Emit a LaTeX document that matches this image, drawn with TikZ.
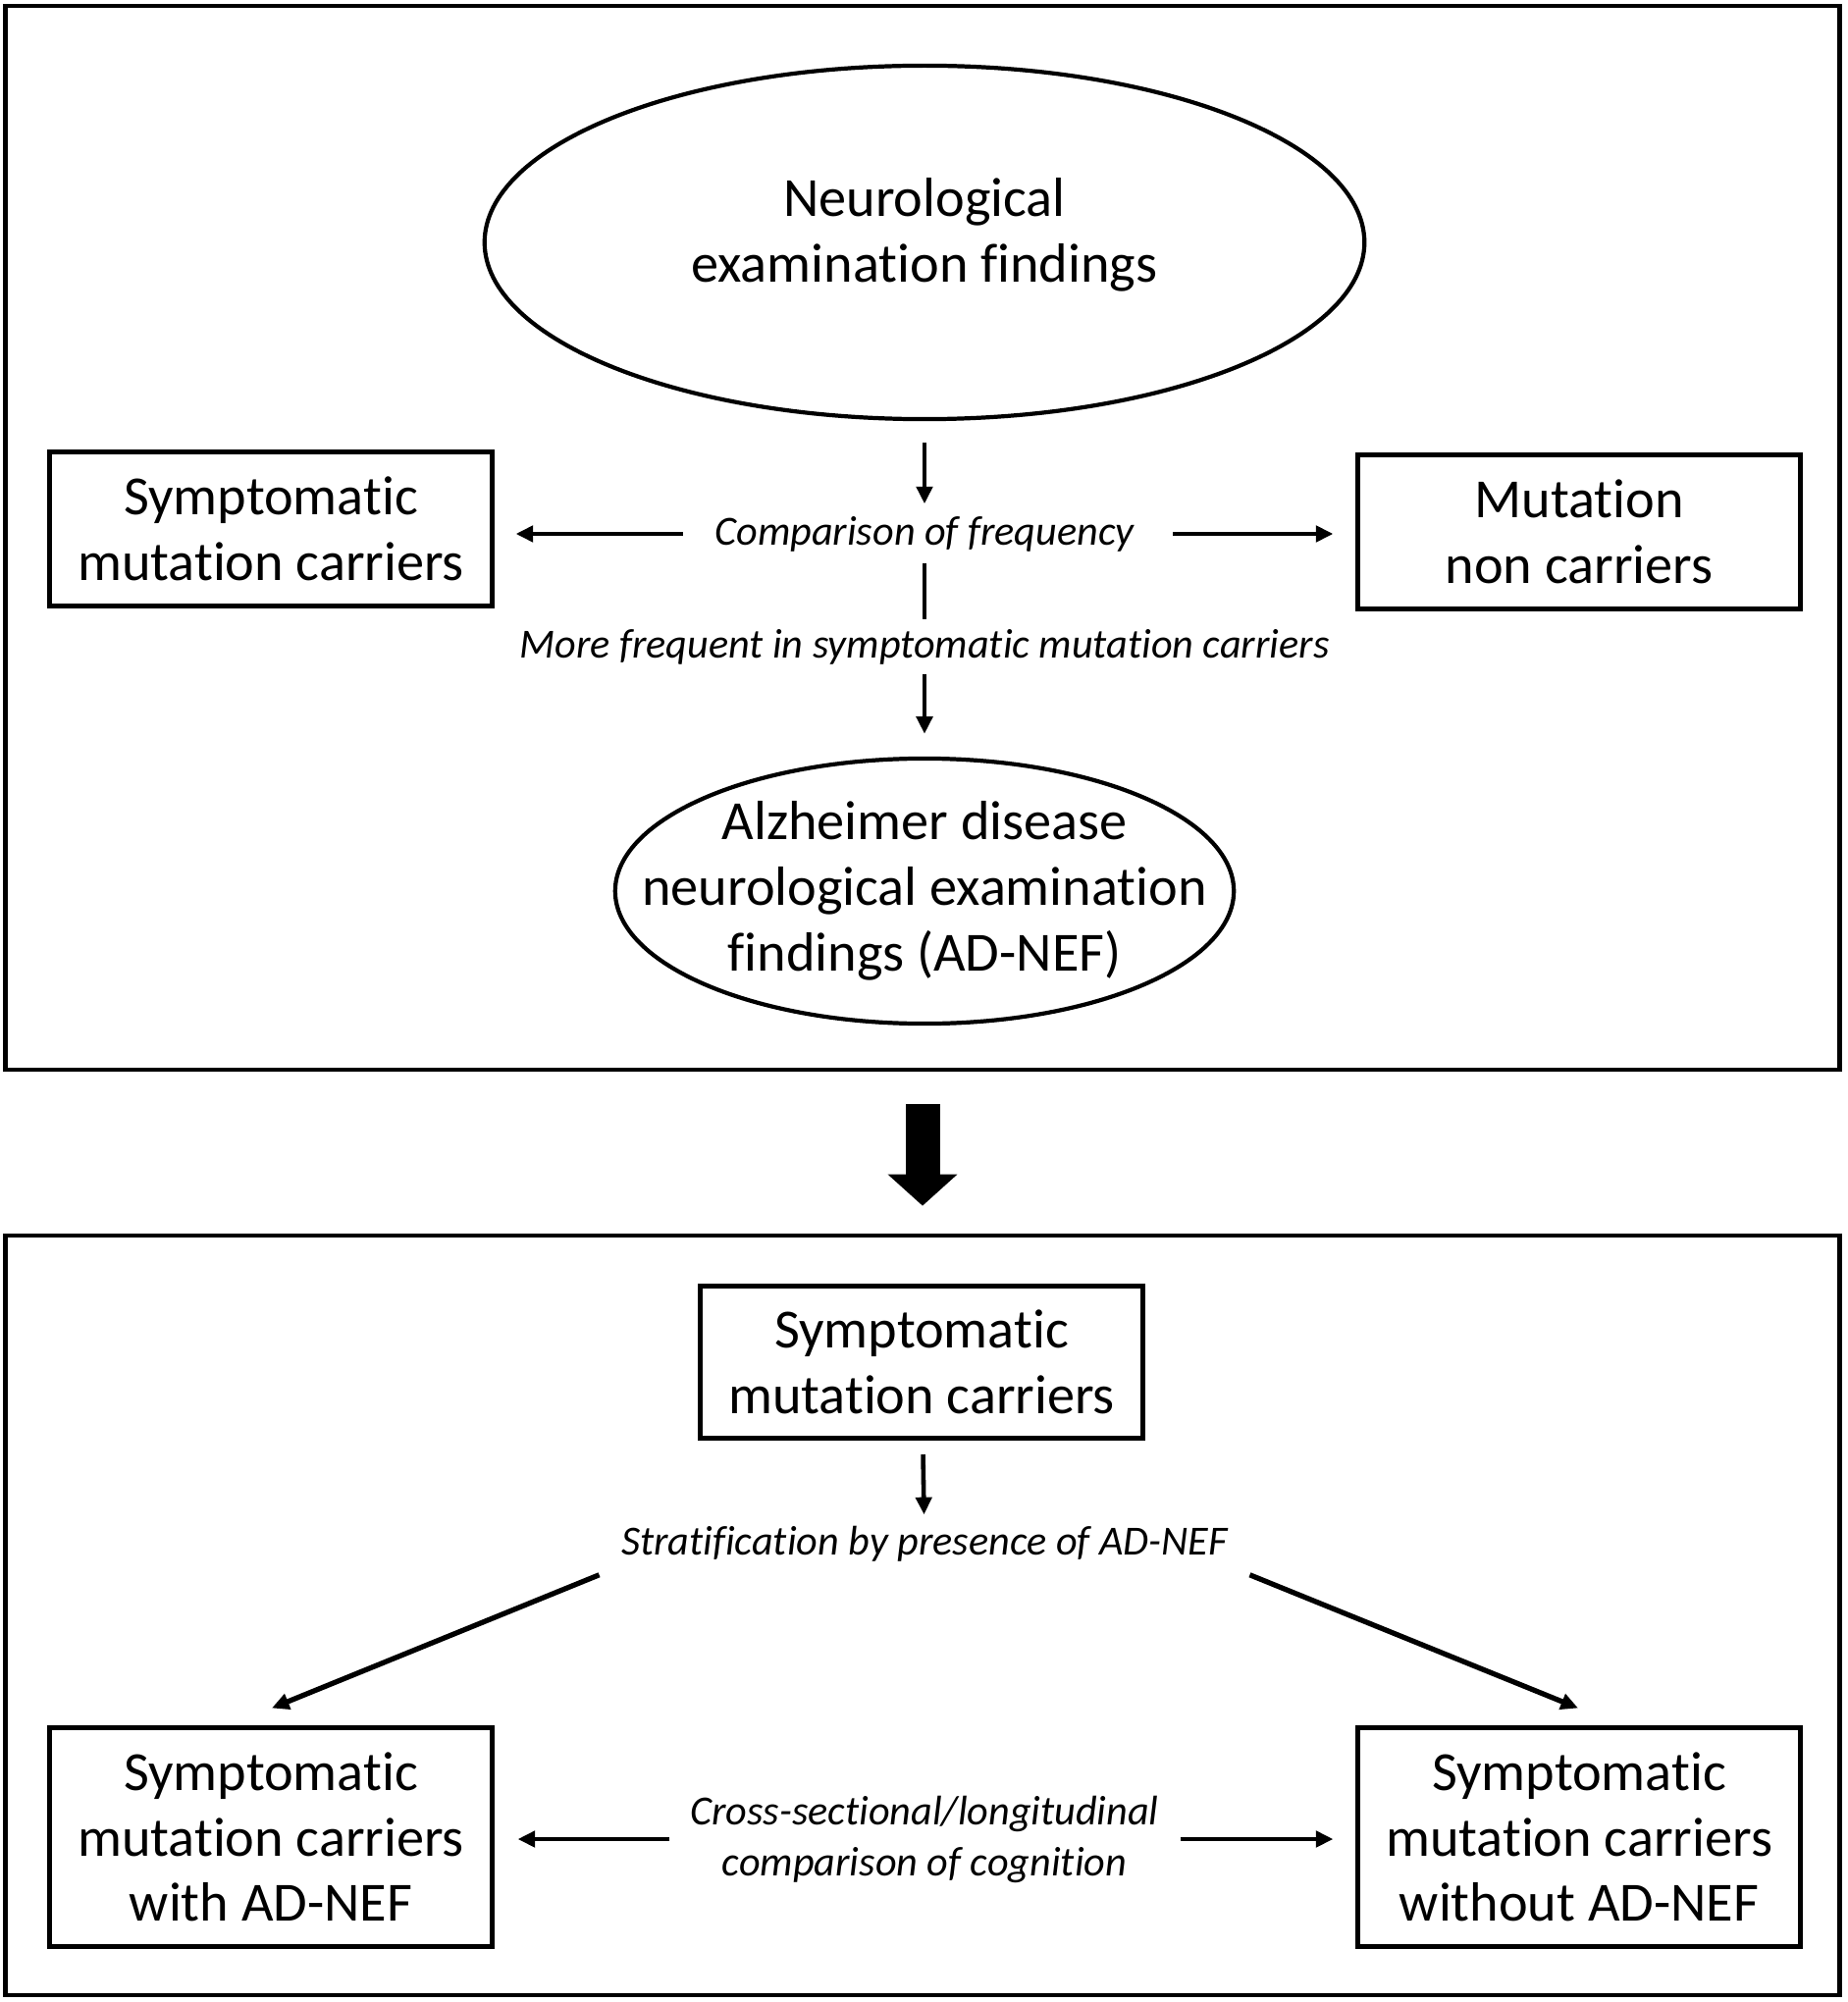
\documentclass[tikz,border=0pt]{standalone}
\usepackage{fontspec}
\setmainfont{Carlito}[Ligatures=NoCommon]
\usetikzlibrary{arrows.meta,shapes.geometric}

\begin{document}
\begin{tikzpicture}[x=0.01cm, y=-0.01cm,
    frame/.style={draw, line width=1.2pt},
    box/.style={draw, line width=1.4pt, align=center, minimum width=4.5cm, font=\fontsize{16}{19}\selectfont},
    oval/.style={draw, ellipse, line width=1.2pt},
    txt/.style={align=center, font=\fontsize{16}{19}\selectfont},
    lbl/.style={inner sep=0pt, align=center, font=\fontsize{12}{14.8}\selectfont\itshape},
    arr/.style={-{Triangle[length=5pt,width=4.6pt]}, line width=1.3pt}]
    \useasboundingbox (0,0) rectangle (1882,2040);

    % the two panels
    \node[frame, minimum width=18.68cm, minimum height=10.84cm] (upper) at (940,548) {};
    \node[frame, minimum width=18.68cm, minimum height=7.74cm] (lower) at (940,1646) {};

    % upper panel
    \node[oval, minimum width=8.96cm, minimum height=3.6cm] (nef) at (942,247) {};
    \node[txt] (neftxt) at (942,239) {Neurological\\examination findings};
    \node[box, minimum height=1.57cm] (smc) at (276,539) {Symptomatic\\mutation carriers};
    \node[box, minimum height=1.56cm] (mnc) at (1609,542) {Mutation\\non carriers};
    \node[lbl] (cmp) at (942,544) {Comparison of frequency};
    \node[lbl] (more) at (942,659) {More frequent in symptomatic mutation carriers};
    \node[oval, minimum width=6.3cm, minimum height=2.7cm] (adnef) at (942,908) {};
    \node[txt] (adneftxt) at (adnef) {Alzheimer disease\\neurological examination\\findings (AD-NEF)};

    \draw[arr, shorten <=.22cm, shorten >=.12cm] (nef) -- (cmp);
    \draw[arr, shorten <=.32cm, shorten >=.22cm] (cmp.west) -- (cmp.west -| smc.east);
    \draw[arr, shorten <=.39cm, shorten >=.23cm] (cmp.east) -- (cmp.east -| mnc.west);
    \draw[line width=1.3pt, shorten <=.11cm, shorten >=.09cm] (cmp) -- (more);
    \draw[arr, shorten <=.09cm, shorten >=.23cm] (more) -- (adnef);

    % big arrow between panels
    \draw[line width=.35cm, -{Triangle[length=.32cm,width=.69cm]}, shorten <=.33cm, shorten >=.28cm] (upper.south) -- (lower.north);

    % lower panel
    \node[box, minimum height=1.55cm] (smc2) at (939,1388) {Symptomatic\\mutation carriers};
    \node[lbl] (strat) at (942,1573) {Stratification by presence of AD-NEF};
    \node[box, minimum height=2.22cm] (wl) at (276,1872) {Symptomatic\\mutation carriers\\with AD-NEF};
    \node[box, minimum height=2.22cm] (wr) at (1609,1872) {Symptomatic\\mutation carriers\\without AD-NEF};
    \node[lbl] (cog) at (942,1874) {Cross-sectional/longitudinal\\comparison of cognition};

    \draw[arr, shorten <=.14cm, shorten >=.11cm] (smc2) -- (strat);
    \foreach \a/\s/\b/\e in {south west/-22/wl/1, south east/22/wr/-1}
      \draw[arr, line width=1.5pt] ([shift={(\s,13)}]strat.\a) -- ([shift={(\e,-18)}]\b.north);
    \draw[arr, shorten <=.2cm, shorten >=.24cm] (cog.west) -- (cog.west -| wl.east);
    \draw[arr, shorten <=.21cm, shorten >=.23cm] (cog.east) -- (cog.east -| wr.west);
\end{tikzpicture}
\end{document}
